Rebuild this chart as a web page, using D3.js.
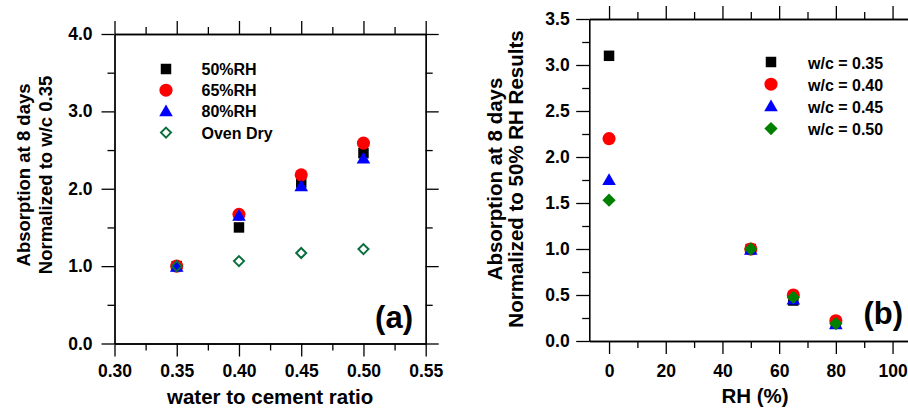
<!DOCTYPE html>
<html>
<head>
<meta charset="utf-8">
<script src="https://cdn.jsdelivr.net/npm/d3@7/dist/d3.min.js"></script>
<style>
  html, body { margin: 0; padding: 0; background: #fff; }
  svg { display: block; }
  text { font-family: "Liberation Sans", Arial, sans-serif; font-weight: bold; fill: #000; }
</style>
</head>
<body>
<svg id="chart" width="908" height="412"></svg>
<script>
// ---------- Panel (a) data ----------
const wcRatios = [0.35, 0.40, 0.45, 0.50];
const rh50 = [1.00, 1.50, 2.08, 2.46];
const rh65 = [1.00, 1.67, 2.18, 2.59];
const rh80 = [0.99, 1.65, 2.03, 2.39];
const ovenDry = [1.00, 1.065, 1.17, 1.22];
const seriesNamesA = ["50%RH", "65%RH", "80%RH", "Oven Dry"];

const aXTicks = [0.30, 0.35, 0.40, 0.45, 0.50, 0.55];
const aXMinor = [0.325, 0.375, 0.425, 0.475, 0.525];
const aYTicks = [0, 1, 2, 3, 4];
const aYMinor = [0.5, 1.5, 2.5, 3.5];

// ---------- Panel (b) data ----------
const rhLevels = [0, 50, 65, 80];
const wc035 = [3.10, 1.00, 0.44, 0.19];
const wc040 = [2.20, 1.00, 0.50, 0.22];
const wc045 = [1.75, 0.99, 0.45, 0.18];
const wc050 = [1.53, 1.00, 0.475, 0.19];
const seriesNamesB = ["w/c = 0.35", "w/c = 0.40", "w/c = 0.45", "w/c = 0.50"];

const bXTicks = [0, 20, 40, 60, 80, 100];
const bXMinor = [10, 30, 50, 70, 90, 110];
const bYTicks = [0, 0.5, 1.0, 1.5, 2.0, 2.5, 3.0, 3.5];
const bYMinor = [0.25, 0.75, 1.25, 1.75, 2.25, 2.75, 3.25];

// ---------- drawing ----------
const svg = d3.select("#chart");
svg.append("rect").attr("width", 908).attr("height", 412).attr("fill", "#fff");

const MAJ = 13, MIN = 7, TICKFONT = "17.5px";

function frame(g, x, y, xFmt, yFmt, xT, xM, yT, yM, padX, padY) {
  const [x0, x1] = x.range(), [y0, y1] = y.range();
  const style = sel => {
    sel.selectAll("path, line").attr("stroke", "#000").attr("stroke-width", 1.3);
    sel.selectAll("text").style("font-size", TICKFONT).attr("fill", "#000");
  };
  g.append("g").attr("transform", `translate(0,${y0})`)
    .call(d3.axisBottom(x).tickValues(xT).tickSize(MAJ).tickSizeOuter(0).tickPadding(padX).tickFormat(xFmt)).call(style);
  g.append("g").attr("transform", `translate(0,${y0})`)
    .call(d3.axisBottom(x).tickValues(xM).tickSize(MIN).tickSizeOuter(0).tickFormat("")).call(style);
  g.append("g").attr("transform", `translate(0,${y1})`)
    .call(d3.axisTop(x).tickValues(xT).tickSize(MAJ).tickSizeOuter(0).tickFormat("")).call(style);
  g.append("g").attr("transform", `translate(0,${y1})`)
    .call(d3.axisTop(x).tickValues(xM).tickSize(MIN).tickSizeOuter(0).tickFormat("")).call(style);
  g.append("g").attr("transform", `translate(${x0},0)`)
    .call(d3.axisLeft(y).tickValues(yT).tickSize(MAJ).tickSizeOuter(0).tickPadding(padY).tickFormat(yFmt)).call(style);
  g.append("g").attr("transform", `translate(${x0},0)`)
    .call(d3.axisLeft(y).tickValues(yM).tickSize(MIN).tickSizeOuter(0).tickFormat("")).call(style);
  g.append("g").attr("transform", `translate(${x1},0)`)
    .call(d3.axisRight(y).tickValues(yT).tickSize(MAJ).tickSizeOuter(0).tickFormat("")).call(style);
  g.append("g").attr("transform", `translate(${x1},0)`)
    .call(d3.axisRight(y).tickValues(yM).tickSize(MIN).tickSizeOuter(0).tickFormat("")).call(style);
}

// square rotated 45 degrees (equal diagonals)
const rhombus = {
  draw(ctx, size) {
    const r = Math.sqrt(size / 2);
    ctx.moveTo(0, -r); ctx.lineTo(r, 0); ctx.lineTo(0, r); ctx.lineTo(-r, 0); ctx.closePath();
  }
};

const sym = {
  square: d3.symbol().type(d3.symbolSquare).size(110),
  circle: d3.symbol().type(d3.symbolCircle).size(135),
  triangle: d3.symbol().type(d3.symbolTriangle).size(80),
  diamond: d3.symbol().type(rhombus).size(50),
  diamondB: d3.symbol().type(rhombus).size(88)
};

function drawSeries(g, x, y, xs, ys, shape, fill, stroke, sw, dy) {
  g.append("g").selectAll("path").data(xs.map((v, i) => [v, ys[i]])).join("path")
    .attr("d", sym[shape])
    .attr("transform", d => `translate(${x(d[0])},${y(d[1]) + (dy || 0)})`)
    .attr("fill", fill).attr("stroke", stroke).attr("stroke-width", sw);
}

// ---------- Panel (a) ----------
const ax = d3.scaleLinear().domain([0.30, 0.55]).range([114.5, 425.7]);
const ay = d3.scaleLinear().domain([0, 4]).range([343.5, 34]);
const ga = svg.append("g");
frame(ga, ax, ay, d3.format(".2f"), d3.format(".1f"), aXTicks, aXMinor, aYTicks, aYMinor, 8, 9);

const stylesA = [
  {shape: "square", fill: "#000", stroke: "none", sw: 0, dy: 0},
  {shape: "circle", fill: "#ff0000", stroke: "none", sw: 0, dy: 0},
  {shape: "triangle", fill: "#0000ff", stroke: "none", sw: 0, dy: 1},
  {shape: "diamond", fill: "none", stroke: "#0a6e3c", sw: 2, dy: 0}
];
const dataA = [rh50, rh65, rh80, ovenDry];
dataA.forEach((ys, i) => {
  const s = stylesA[i];
  drawSeries(ga, ax, ay, wcRatios, ys, s.shape, s.fill, s.stroke, s.sw, s.dy);
});

const legA = ga.append("g");
seriesNamesA.forEach((name, i) => {
  const s = stylesA[i];
  const cy = 69 + i * 21.2;
  legA.append("path").attr("d", sym[s.shape]).attr("transform", `translate(166,${cy + (s.dy || 0)})`)
    .attr("fill", s.fill).attr("stroke", s.stroke).attr("stroke-width", s.sw);
  legA.append("text").attr("x", 201.5).attr("y", cy + 6).style("font-size", "16px").text(name);
});

ga.append("text").attr("x", (ax.range()[0] + ax.range()[1]) / 2).attr("y", 404)
  .attr("text-anchor", "middle").style("font-size", "20.5px").text("water to cement ratio");
ga.append("text").attr("transform", "translate(30,175) rotate(-90)")
  .attr("text-anchor", "middle").style("font-size", "18.5px").text("Absorption at 8 days");
ga.append("text").attr("transform", "translate(52,175) rotate(-90)")
  .attr("text-anchor", "middle").style("font-size", "18.5px").text("Normalized to w/c 0.35");
ga.append("text").attr("x", 413).attr("y", 328).attr("text-anchor", "end")
  .style("font-size", "31px").text("(a)");

// ---------- Panel (b) ----------
const bx = d3.scaleLinear().domain([-7, 110]).range([589.2, 920.9]);
const by = d3.scaleLinear().domain([0, 3.5]).range([341, 19]);
const gb = svg.append("g");
frame(gb, bx, by, d3.format("d"), d3.format(".1f"), bXTicks, bXMinor, bYTicks, bYMinor, 10.5, 6.5);

const stylesB = [
  {shape: "square", fill: "#000", stroke: "none", sw: 0, dy: 0},
  {shape: "circle", fill: "#ff0000", stroke: "none", sw: 0, dy: 0},
  {shape: "triangle", fill: "#0000ff", stroke: "none", sw: 0, dy: 1},
  {shape: "diamondB", fill: "#008000", stroke: "none", sw: 0, dy: 0}
];
const dataB = [wc035, wc040, wc045, wc050];
dataB.forEach((ys, i) => {
  const s = stylesB[i];
  drawSeries(gb, bx, by, rhLevels, ys, s.shape, s.fill, s.stroke, s.sw, s.dy);
});

const legB = gb.append("g");
seriesNamesB.forEach((name, i) => {
  const s = stylesB[i];
  const cy = 62 + i * 22.2;
  legB.append("path").attr("d", sym[s.shape]).attr("transform", `translate(771,${cy + (s.dy || 0)})`)
    .attr("fill", s.fill).attr("stroke", s.stroke).attr("stroke-width", s.sw);
  legB.append("text").attr("x", 808).attr("y", cy + 6.5).style("font-size", "16px").text(name);
});

gb.append("text").attr("x", (bx.range()[0] + bx.range()[1]) / 2).attr("y", 403)
  .attr("text-anchor", "middle").style("font-size", "20.5px").text("RH (%)");
gb.append("text").attr("transform", "translate(502,179) rotate(-90)")
  .attr("text-anchor", "middle").style("font-size", "20.5px").text("Absorption at 8 days");
gb.append("text").attr("transform", "translate(523,179) rotate(-90)")
  .attr("text-anchor", "middle").style("font-size", "20.5px").text("Normalized to 50% RH Results");
gb.append("text").attr("x", 903).attr("y", 323.5).attr("text-anchor", "end")
  .style("font-size", "31px").text("(b)");
</script>
</body>
</html>
